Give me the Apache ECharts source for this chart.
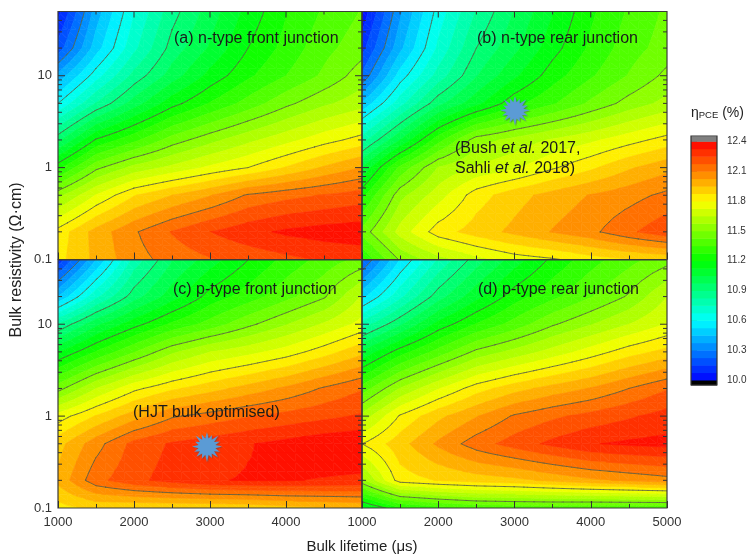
<!DOCTYPE html>
<html><head><meta charset="utf-8">
<style>html,body{margin:0;padding:0;background:#fff}#c{width:753px;height:556px;filter:blur(0.35px)}</style>
<script src="https://cdn.jsdelivr.net/npm/echarts@6/dist/echarts.min.js"></script>
</head><body><div id="c"></div>
<script>
const lifetimes=[1000,1500,2000,2500,3000,3500,4000,4500,5000];
const resistivities=[50,20,10,5,2,1,0.5,0.2,0.1];
const panelA=[
[10.05,10.41,10.67,10.87,11.01,11.15,11.27,11.36,11.43],
[10.18,10.49,10.73,10.93,11.06,11.20,11.30,11.40,11.47],
[10.40,10.64,10.85,11.01,11.15,11.26,11.35,11.44,11.54],
[10.60,10.83,11.01,11.17,11.28,11.38,11.48,11.56,11.62],
[10.95,11.21,11.33,11.46,11.55,11.63,11.70,11.77,11.83],
[11.25,11.48,11.60,11.67,11.74,11.80,11.88,11.96,12.03],
[11.55,11.73,11.87,11.95,12.02,12.11,12.15,12.18,12.21],
[11.83,11.98,12.09,12.18,12.25,12.30,12.34,12.36,12.37],
[11.85,11.97,12.07,12.13,12.17,12.20,12.23,12.26,12.28]];
const panelB=[
[10.02,10.36,10.63,10.83,10.98,11.12,11.26,11.36,11.44],
[10.12,10.43,10.69,10.90,11.03,11.17,11.29,11.39,11.46],
[10.24,10.56,10.78,10.97,11.11,11.24,11.34,11.43,11.52],
[10.46,10.72,10.95,11.10,11.25,11.34,11.44,11.53,11.60],
[10.79,11.05,11.32,11.54,11.60,11.66,11.71,11.77,11.83],
[11.05,11.37,11.58,11.66,11.71,11.79,11.86,11.94,12.00],
[11.25,11.55,11.69,11.84,11.92,11.98,12.03,12.07,12.12],
[11.45,11.68,11.84,11.91,11.97,12.03,12.08,12.16,12.23],
[11.28,11.51,11.62,11.70,11.76,11.79,11.84,11.87,11.89]];
const panelC=[
[10.10,10.45,10.78,10.97,11.09,11.20,11.30,11.38,11.45],
[10.45,10.73,10.94,11.09,11.23,11.31,11.40,11.49,11.66],
[10.83,11.03,11.17,11.29,11.38,11.48,11.57,11.66,11.75],
[11.12,11.28,11.42,11.56,11.65,11.70,11.76,11.84,11.93],
[11.47,11.65,11.78,11.86,11.92,11.98,12.04,12.11,12.17],
[11.76,11.88,11.99,12.09,12.13,12.17,12.20,12.23,12.26],
[11.92,12.07,12.20,12.26,12.29,12.32,12.35,12.38,12.39],
[11.97,12.15,12.23,12.28,12.32,12.33,12.33,12.32,12.31],
[11.85,11.89,11.88,11.88,11.88,11.89,11.92,11.94,11.96]];
const panelD=[
[10.22,10.53,10.76,10.94,11.09,11.22,11.32,11.40,11.47],
[10.50,10.73,10.94,11.10,11.24,11.33,11.42,11.51,11.65],
[10.78,10.96,11.15,11.28,11.38,11.49,11.57,11.65,11.73],
[11.06,11.24,11.38,11.52,11.60,11.68,11.76,11.84,11.90],
[11.38,11.58,11.72,11.84,11.92,11.98,12.03,12.10,12.17],
[11.60,11.81,11.93,12.02,12.11,12.16,12.20,12.24,12.28],
[11.80,11.92,12.04,12.14,12.21,12.27,12.32,12.34,12.35],
[11.55,11.84,11.88,11.91,11.93,11.97,12.01,12.04,12.07],
[11.10,11.26,11.32,11.36,11.37,11.37,11.36,11.36,11.36]];
const panels=[panelA,panelB,panelC,panelD];
const panelTitles=['(a) n-type front junction','(b) n-type rear junction','(c) p-type front junction','(d) p-type rear junction'];
const colorTickLabels=[10.0,10.3,10.6,10.9,11.2,11.5,11.8,12.1,12.4];
const contourLevels=[10.3,10.6,10.9,11.2,11.5,11.8,12.1];
const bandStep=0.075;
const colorStops=[[10,[0,0,255]],[10.6,[0,255,255]],[11.2,[0,255,0]],[11.8,[255,255,0]],[12.4,[255,0,0]]];
const yMajor=[1,10];
const yMinor=[0.2,0.3,0.4,0.5,0.6,0.7,0.8,0.9,2,3,4,5,6,7,8,9,20,30,40];
const xTop=[1500,2000,2500,3000,3500,4000,4500];
const starPoints=[[3006,4.15],[2960,0.46]];

function colorAt(v){
  for(let i=0;i<colorStops.length-1;i++){
    const a=colorStops[i],b=colorStops[i+1];
    if(v<=b[0]){const t=(v-a[0])/(b[0]-a[0]);
      return 'rgb('+a[1].map((c,k)=>Math.round(c+(b[1][k]-c)*t)).join(',')+')';}
  }
  return 'rgb(255,0,0)';
}
const bands=[];
for(let i=0;i<32;i++){const lo=10+i*bandStep;bands.push([lo,lo+bandStep,colorAt(lo+bandStep/2)]);}

function clip(poly,level,keepAbove){
  const out=[];
  for(let i=0;i<poly.length;i++){
    const p=poly[i],q=poly[(i+1)%poly.length];
    const pin=keepAbove?p[2]>=level:p[2]<=level, qin=keepAbove?q[2]>=level:q[2]<=level;
    if(pin)out.push(p);
    if(pin!==qin){const t=(level-p[2])/(q[2]-p[2]);out.push([p[0]+(q[0]-p[0])*t,p[1]+(q[1]-p[1])*t,level]);}
  }
  return out;
}
const SUB=4;
function cellTriangles(api,vals,c,r){
  const a=api.coord([lifetimes[c],resistivities[r]]),d=api.coord([lifetimes[c+1],resistivities[r+1]]);
  const v00=vals[r][c],v10=vals[r][c+1],v01=vals[r+1][c],v11=vals[r+1][c+1];
  const P=(i,j)=>{const u=i/SUB,w=j/SUB;
    return [a[0]+(d[0]-a[0])*u,a[1]+(d[1]-a[1])*w,
      v00*(1-u)*(1-w)+v10*u*(1-w)+v01*(1-u)*w+v11*u*w];};
  const tris=[];
  for(let i=0;i<SUB;i++)for(let j=0;j<SUB;j++){
    const p=P(i,j),q=P(i+1,j),s=P(i+1,j+1),t=P(i,j+1);
    tris.push([p,q,s],[p,s,t]);
  }
  return tris;
}
function fillItem(vals){return function(params,api){
  const c=params.dataIndex%8,r=Math.floor(params.dataIndex/8),children=[];
  cellTriangles(api,vals,c,r).forEach(tri=>{
    bands.forEach(b=>{
      let poly=clip(tri,b[0],true); if(poly.length<3)return;
      poly=clip(poly,b[1],false); if(poly.length<3)return;
      children.push({type:'polygon',shape:{points:poly.map(p=>[p[0],p[1]])},style:{fill:b[2],stroke:b[2],lineWidth:0.6}});
    });
  });
  return {type:'group',children};
};}
function lineItem(vals){return function(params,api){
  const c=params.dataIndex%8,r=Math.floor(params.dataIndex/8),children=[];
  cellTriangles(api,vals,c,r).forEach(tri=>{
    contourLevels.forEach(L=>{
      const pts=[];
      for(let i=0;i<3;i++){const p=tri[i],q=tri[(i+1)%3];
        if((p[2]<L)!==(q[2]<L)){const t=(L-p[2])/(q[2]-p[2]);pts.push([p[0]+(q[0]-p[0])*t,p[1]+(q[1]-p[1])*t]);}}
      if(pts.length===2)children.push({type:'line',shape:{x1:pts[0][0],y1:pts[0][1],x2:pts[1][0],y2:pts[1][1]},
        style:{stroke:'rgb(85,95,70)',lineWidth:0.8,lineCap:'round'}});
    });
  });
  return {type:'group',children};
};}
function tickItem(){return function(params,api){
  const L=api.value(0),R=api.value(1),kind=api.value(2),len=api.value(3);
  const children=[],st={stroke:'#333',lineWidth:1};
  if(kind===0){
    const a=api.coord([1000,R]),b=api.coord([5000,R]);
    children.push({type:'line',shape:{x1:a[0],y1:a[1],x2:a[0]+len,y2:a[1]},style:st});
    children.push({type:'line',shape:{x1:b[0],y1:b[1],x2:b[0]-len,y2:b[1]},style:st});
  }else{
    const a=api.coord([L,50]);
    children.push({type:'line',shape:{x1:a[0],y1:a[1],x2:a[0],y2:a[1]+len},style:st});
  }
  return {type:'group',children};
};}
function starPath(){
  const radii=[14,8,13,8,14.5,8,12,8,15,8,13,8,14,8,13,8,14,8,12,8,15,8,13,8,14,8,12,8,15,8,13,8];
  let s='path://';
  radii.forEach((r,i)=>{const t=i/radii.length*Math.PI*2;
    s+=(i?'L':'M')+(20+r*Math.cos(t)).toFixed(2)+' '+(20+r*Math.sin(t)).toFixed(2);});
  return s+'Z';
}
const geo=[{left:58,top:11.5,width:304,height:248},{left:362,top:11.5,width:305,height:248},
           {left:58,top:260,width:304,height:248},{left:362,top:260,width:305,height:248}];
const grids=geo.map(g=>Object.assign({show:true,borderColor:'#3a3a3a',borderWidth:1.2,backgroundColor:'transparent',z:4},g));
grids.push({left:691,top:141.3,width:26,height:238.7,show:false});
const axisFont={fontFamily:'Liberation Sans',fontSize:13,color:'#333'};
const xAxes=geo.map((g,i)=>({gridIndex:i,type:'value',min:1000,max:5000,interval:1000,
  axisLine:{show:false},splitLine:{show:false},z:6,
  axisTick:{show:true,inside:true,length:7,lineStyle:{color:'#333',width:1}},
  minorTick:{show:true,splitNumber:2,length:4,lineStyle:{color:'#333',width:1}},
  axisLabel:Object.assign({show:i>=2,margin:8,formatter:v=>(i===2&&v===5000)?'':String(v)},axisFont)}));
xAxes.push({gridIndex:4,type:'value',min:0,max:1,show:false});
const yAxes=geo.map((g,i)=>({gridIndex:i,type:'log',logBase:10,min:0.1,max:50,
  axisLine:{show:false},axisTick:{show:false},minorTick:{show:false},splitLine:{show:false},minorSplitLine:{show:false},
  axisLabel:Object.assign({show:i%2===0,margin:6,formatter:v=>[0.1,1,10].some(t=>Math.abs(t-v)<1e-9)?String(+(+v).toFixed(1)):''},axisFont)}));
yAxes.push({gridIndex:4,type:'value',position:'right',min:10,max:12.4,
  axisLine:{show:false},splitLine:{show:false},
  axisTick:{show:true,length:6,customValues:colorTickLabels,lineStyle:{color:'#444',width:1}},
  axisLabel:Object.assign({margin:10,customValues:colorTickLabels,formatter:v=>(+v).toFixed(1)},axisFont,{fontSize:10})});

const series=[];
panels.forEach((vals,i)=>{
  const cells=[];
  for(let r=0;r<8;r++)for(let c=0;c<8;c++)cells.push([lifetimes[c],resistivities[r],vals[r][c]]);
  series.push({type:'custom',xAxisIndex:i,yAxisIndex:i,renderItem:fillItem(vals),data:cells,encode:{x:0,y:1},z:1,silent:true,clip:true});
  series.push({type:'custom',xAxisIndex:i,yAxisIndex:i,renderItem:lineItem(vals),data:cells,encode:{x:0,y:1},z:2,silent:true,clip:true});
  const ticks=[];
  yMajor.forEach(v=>ticks.push([1000,v,0,7]));
  yMinor.forEach(v=>ticks.push([1000,v,0,4]));
  if(i<2)xTop.forEach(v=>ticks.push([v,50,1,v%1000===0?6:3]));
  series.push({type:'custom',xAxisIndex:i,yAxisIndex:i,renderItem:tickItem(),data:ticks,encode:{x:0,y:1},z:5,silent:true,clip:false});
});
[1,2].forEach((ax,k)=>series.push({type:'scatter',xAxisIndex:ax,yAxisIndex:ax,data:[starPoints[k]],
  symbol:starPath(),symbolSize:30,z:7,silent:true,
  itemStyle:{color:'#5b9bd5',opacity:1,shadowColor:'rgba(80,80,80,0.5)',shadowBlur:1,shadowOffsetX:1,shadowOffsetY:1}}));
// colour bar
const barData=bands.map(b=>[0,b[0],b[1],b[2]]);
barData.unshift([0,9.95,10,'#000000']);
barData.push([0,12.4,12.45,'#808080']);
series.push({type:'custom',xAxisIndex:4,yAxisIndex:4,clip:false,silent:true,data:barData,encode:{y:1},z:3,
  renderItem(params,api){
    const d=barData[params.dataIndex];
    const a=api.coord([0,d[1]]),b=api.coord([1,d[2]]);
    return {type:'rect',shape:{x:a[0],y:b[1],width:b[0]-a[0],height:a[1]-b[1]+0.5},style:{fill:d[3]}};
  }});
const FF='Liberation Sans';
function label(x,y,text,extra){return {type:'text',x,y,z:20,style:Object.assign({text,fontFamily:FF,fontSize:16,fill:'#1a1a1a',verticalAlign:'middle'},extra||{})};}
const graphic=[
  {type:'rect',z:8,shape:{x:691,y:136,width:26,height:249},style:{fill:'none',stroke:'#333',lineWidth:1.2}},
  label(174,37,panelTitles[0],{y:0}),label(477,37,panelTitles[1]),label(173,288,panelTitles[2]),label(478,288,panelTitles[3]),
  label(133,413,'(HJT bulk optimised)'),
  label(455,159,'(Bush {i|et al.} 2017,\nSahli {i|et al.} 2018)',{lineHeight:20,rich:{i:{fontStyle:'italic',fontFamily:FF,fontSize:16,fill:'#1a1a1a'}}}),
  label(362,547,'Bulk lifetime (μs)',{align:'center',fontSize:15,fill:'#222'}),
  {type:'text',x:17,y:260,rotation:Math.PI/2,z:20,style:{text:'Bulk resistivity (Ω·cm)',fontFamily:FF,fontSize:16,fill:'#222',align:'center',verticalAlign:'middle'}},
  label(691,113,'η{s|PCE} (%)',{fontSize:14,fill:'#222',rich:{s:{fontSize:9.5,fontFamily:FF,fill:'#222',verticalAlign:'bottom',padding:[5,0,0,0]}}})
];
// panel titles sit about 2px lower than the middle of their line box
graphic.forEach(g=>{if(g.style&&panelTitles.includes(g.style.text)){g.y+=2;delete g.style.y;}});
const chart=echarts.init(document.getElementById('c'),null,{renderer:'canvas'});
chart.setOption({animation:false,backgroundColor:'#fff',grid:grids,xAxis:xAxes,yAxis:yAxes,series,graphic});
</script></body></html>
